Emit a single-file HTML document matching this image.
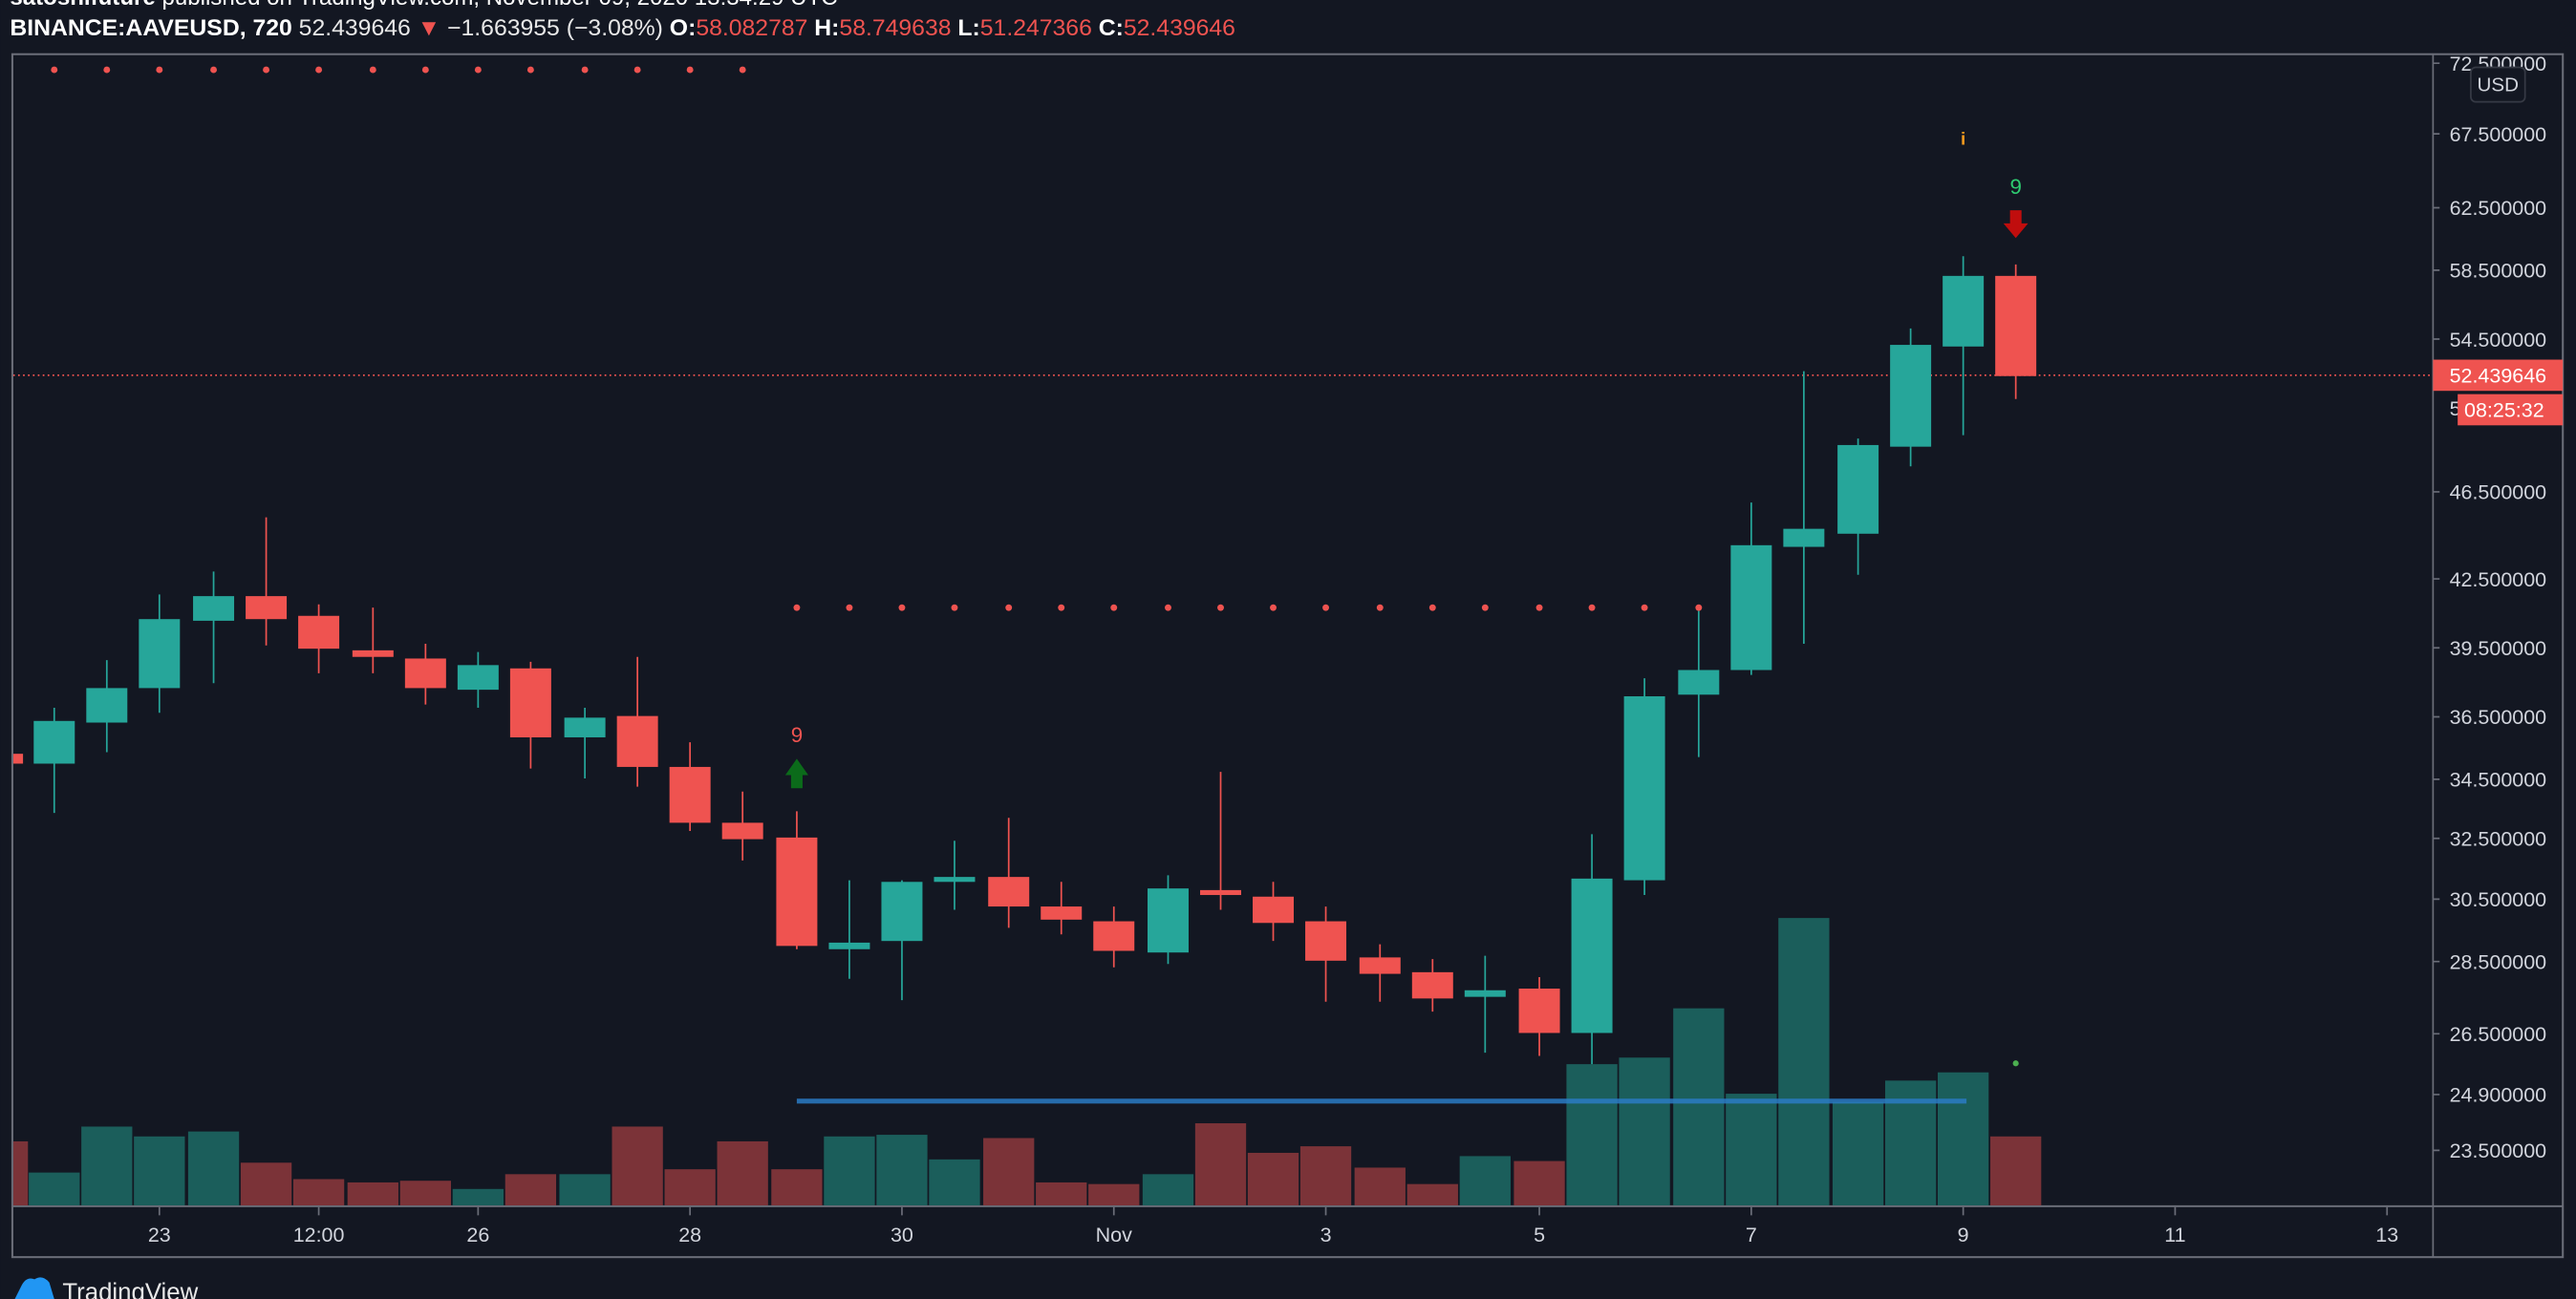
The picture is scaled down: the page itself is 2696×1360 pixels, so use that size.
<!DOCTYPE html>
<html><head><meta charset="utf-8"><style>
html,body{margin:0;padding:0;background:#131722;}
svg{display:block}
text{font-family:"Liberation Sans",sans-serif}
</style></head><body>
<svg width="2696" height="1360" viewBox="0 0 1568 791" xmlns="http://www.w3.org/2000/svg">
<rect width="1568" height="791" fill="#131722"/>
<defs><clipPath id="c"><rect x="8" y="33" width="1472" height="701"/></clipPath></defs>
<!-- header -->
<text x="6" y="3" font-size="14" fill="#fff"><tspan font-weight="bold">satoshifuture</tspan> published on TradingView.com, November 09, 2020 13:34:29 UTC</text>
<text x="6" y="21.5" font-size="14" fill="#e8e8e8" textLength="746" lengthAdjust="spacingAndGlyphs"><tspan font-weight="bold" fill="#fff">BINANCE:AAVEUSD, 720</tspan> 52.439646 <tspan fill="#ef5350">▼</tspan> −1.663955 (−3.08%) <tspan font-weight="bold" fill="#fff">O:</tspan><tspan fill="#ef5350">58.082787</tspan> <tspan font-weight="bold" fill="#fff">H:</tspan><tspan fill="#ef5350">58.749638</tspan> <tspan font-weight="bold" fill="#fff">L:</tspan><tspan fill="#ef5350">51.247366</tspan> <tspan font-weight="bold" fill="#fff">C:</tspan><tspan fill="#ef5350">52.439646</tspan></text>
<!-- frame -->
<rect x="7.5" y="33" width="1552.5" height="732.5" fill="none" stroke="#6a6d78" stroke-width="1.2"/>
<line x1="1481" y1="33" x2="1481" y2="765.5" stroke="#6a6d78" stroke-width="1"/>
<line x1="7.5" y1="734.5" x2="1560" y2="734.5" stroke="#6a6d78" stroke-width="1.2"/>
<g clip-path="url(#c)">
<!-- volume -->
<g fill="#1b5e5b">
<rect x="17.5" y="714" width="31" height="20"/><rect x="49.5" y="686" width="31" height="48"/><rect x="81.5" y="692" width="31" height="42"/><rect x="114.5" y="689" width="31" height="45"/><rect x="275.5" y="724" width="31" height="10"/><rect x="340.5" y="715" width="31" height="19"/><rect x="501.5" y="692" width="31" height="42"/><rect x="533.5" y="691" width="31" height="43"/><rect x="565.5" y="706" width="31" height="28"/><rect x="695.5" y="715" width="31" height="19"/><rect x="888.5" y="704" width="31" height="30"/><rect x="953.5" y="648" width="31" height="86"/><rect x="985.5" y="644" width="31" height="90"/><rect x="1018.5" y="614" width="31" height="120"/><rect x="1050.5" y="666" width="31" height="68"/><rect x="1082.5" y="559" width="31" height="175"/><rect x="1115.5" y="671" width="31" height="63"/><rect x="1147.5" y="658" width="31" height="76"/><rect x="1179.5" y="653" width="31" height="81"/>
</g>
<g fill="#7b3338">
<rect x="8" y="695" width="9" height="39"/><rect x="146.5" y="708" width="31" height="26"/><rect x="178.5" y="718" width="31" height="16"/><rect x="211.5" y="720" width="31" height="14"/><rect x="243.5" y="719" width="31" height="15"/><rect x="307.5" y="715" width="31" height="19"/><rect x="372.5" y="686" width="31" height="48"/><rect x="404.5" y="712" width="31" height="22"/><rect x="436.5" y="695" width="31" height="39"/><rect x="469.5" y="712" width="31" height="22"/><rect x="598.5" y="693" width="31" height="41"/><rect x="630.5" y="720" width="31" height="14"/><rect x="662.5" y="721" width="31" height="13"/><rect x="727.5" y="684" width="31" height="50"/><rect x="759.5" y="702" width="31" height="32"/><rect x="791.5" y="698" width="31" height="36"/><rect x="824.5" y="711" width="31" height="23"/><rect x="856.5" y="721" width="31" height="13"/><rect x="921.5" y="707" width="31" height="27"/><rect x="1211.5" y="692" width="31" height="42"/>
</g>
<!-- blue line -->
<line x1="485" y1="670.5" x2="1197" y2="670.5" stroke="#2a7bc4" stroke-opacity="0.85" stroke-width="3"/>
<!-- price line -->
<line x1="8" y1="228.5" x2="1481" y2="228.5" stroke="#ef5350" stroke-width="1" stroke-dasharray="1 2"/>
<!-- dots -->
<g fill="#ef5350">
<circle cx="33" cy="42.5" r="2"/><circle cx="65" cy="42.5" r="2"/><circle cx="97" cy="42.5" r="2"/><circle cx="130" cy="42.5" r="2"/><circle cx="162" cy="42.5" r="2"/><circle cx="194" cy="42.5" r="2"/><circle cx="227" cy="42.5" r="2"/><circle cx="259" cy="42.5" r="2"/><circle cx="291" cy="42.5" r="2"/><circle cx="323" cy="42.5" r="2"/><circle cx="356" cy="42.5" r="2"/><circle cx="388" cy="42.5" r="2"/><circle cx="420" cy="42.5" r="2"/><circle cx="452" cy="42.5" r="2"/>
<circle cx="485" cy="370" r="2"/><circle cx="517" cy="370" r="2"/><circle cx="549" cy="370" r="2"/><circle cx="581" cy="370" r="2"/><circle cx="614" cy="370" r="2"/><circle cx="646" cy="370" r="2"/><circle cx="678" cy="370" r="2"/><circle cx="711" cy="370" r="2"/><circle cx="743" cy="370" r="2"/><circle cx="775" cy="370" r="2"/><circle cx="807" cy="370" r="2"/><circle cx="840" cy="370" r="2"/><circle cx="872" cy="370" r="2"/><circle cx="904" cy="370" r="2"/><circle cx="937" cy="370" r="2"/><circle cx="969" cy="370" r="2"/><circle cx="1001" cy="370" r="2"/><circle cx="1034" cy="370" r="2"/>
</g>
<!-- green candles -->
<g stroke="#26a69a" stroke-width="1">
<path d="M33 431V495M65 402V458M97 362V434M130 348V416M291 397V431M356 431V474M517 536V596M549 536V609M581 512V554M711 533V587M904 582V641M969 508V648M1001 413V545M1034 372V461M1066 306V411M1098 226V392M1131 267V350M1163 200V284M1195 156V265"/>
</g>
<g fill="#26a69a">
<rect x="20.5" y="439" width="25" height="26"/><rect x="52.5" y="419" width="25" height="21"/><rect x="84.5" y="377" width="25" height="42"/><rect x="117.5" y="363" width="25" height="15"/><rect x="278.5" y="405" width="25" height="15"/><rect x="343.5" y="437" width="25" height="12"/><rect x="504.5" y="574" width="25" height="4"/><rect x="536.5" y="537" width="25" height="36"/><rect x="568.5" y="534" width="25" height="3"/><rect x="698.5" y="541" width="25" height="39"/><rect x="891.5" y="603" width="25" height="4"/><rect x="956.5" y="535" width="25" height="94"/><rect x="988.5" y="424" width="25" height="112"/><rect x="1021.5" y="408" width="25" height="15"/><rect x="1053.5" y="332" width="25" height="76"/><rect x="1085.5" y="322" width="25" height="11"/><rect x="1118.5" y="271" width="25" height="54"/><rect x="1150.5" y="210" width="25" height="62"/><rect x="1182.5" y="168" width="25" height="43"/>
</g>
<!-- red candles -->
<g stroke="#ef5350" stroke-width="1">
<path d="M162 315V393M194 368V410M227 370V410M259 392V429M323 403V468M388 400V479M420 452V506M452 482V524M485 494V578M614 498V565M646 537V569M678 552V589M743 470V554M775 537V573M807 552V610M840 575V610M872 584V616M937 595V643M1227 161V243"/>
</g>
<g fill="#ef5350">
<rect x="8" y="459" width="6" height="6"/><rect x="149.5" y="363" width="25" height="14"/><rect x="181.5" y="375" width="25" height="20"/><rect x="214.5" y="396" width="25" height="4"/><rect x="246.5" y="401" width="25" height="18"/><rect x="310.5" y="407" width="25" height="42"/><rect x="375.5" y="436" width="25" height="31"/><rect x="407.5" y="467" width="25" height="34"/><rect x="439.5" y="501" width="25" height="10"/><rect x="472.5" y="510" width="25" height="66"/><rect x="601.5" y="534" width="25" height="18"/><rect x="633.5" y="552" width="25" height="8"/><rect x="665.5" y="561" width="25" height="18"/><rect x="730.5" y="542" width="25" height="3"/><rect x="762.5" y="546" width="25" height="16"/><rect x="794.5" y="561" width="25" height="24"/><rect x="827.5" y="583" width="25" height="10"/><rect x="859.5" y="592" width="25" height="16"/><rect x="924.5" y="602" width="25" height="27"/><rect x="1214.5" y="168" width="25" height="61"/>
</g>
<!-- markers -->
<text x="485" y="452" font-size="13" fill="#ef5350" text-anchor="middle">9</text>
<path d="M485 462L492 472H488.5V480H481.5V472H478Z" fill="#0b6b1a"/>
<text x="1195" y="88" font-size="11" font-weight="bold" fill="#f59a1e" text-anchor="middle">i</text>
<text x="1227" y="118" font-size="13" fill="#2ecc71" text-anchor="middle">9</text>
<path d="M1223.5 128H1230.5V136H1234.5L1227 145L1219.5 136H1223.5Z" fill="#c00d0d"/>
<circle cx="1227" cy="647.5" r="1.8" fill="#4caf50"/>
</g>
<!-- price axis -->
<g font-size="12.5" fill="#d1d4dc">
<text x="1491" y="43">72.500000</text><text x="1491" y="86">67.500000</text><text x="1491" y="131">62.500000</text><text x="1491" y="169">58.500000</text><text x="1491" y="211">54.500000</text><text x="1491" y="304">46.500000</text><text x="1491" y="357">42.500000</text><text x="1491" y="399">39.500000</text><text x="1491" y="441">36.500000</text><text x="1491" y="479">34.500000</text><text x="1491" y="515">32.500000</text><text x="1491" y="552">30.500000</text><text x="1491" y="590">28.500000</text><text x="1491" y="634">26.500000</text><text x="1491" y="671">24.900000</text><text x="1491" y="705">23.500000</text><text x="1491" y="253">5</text>
</g>
<g stroke="#6a6d78"><path d="M1481 38.5h4M1481 81.5h4M1481 126.5h4M1481 164.5h4M1481 206.5h4M1481 299.5h4M1481 352.5h4M1481 394.5h4M1481 436.5h4M1481 474.5h4M1481 510.5h4M1481 547.5h4M1481 585.5h4M1481 629.5h4M1481 666.5h4M1481 700.5h4"/></g>
<rect x="1504" y="41" width="33" height="21" rx="3" fill="#131722" stroke="#363a45"/>
<text x="1520.5" y="55.5" font-size="12" fill="#d1d4dc" text-anchor="middle">USD</text>
<rect x="1481" y="219" width="79" height="19" fill="#ef5350"/>
<text x="1491" y="233" font-size="12.5" fill="#fff">52.439646</text>
<rect x="1496" y="240" width="64" height="19" fill="#ef5350"/>
<text x="1500" y="254" font-size="12.5" fill="#fff">08:25:32</text>
<!-- time axis -->
<g stroke="#6a6d78"><path d="M97 735v5M194 735v5M291 735v5M420 735v5M549 735v5M678 735v5M807 735v5M937 735v5M1066 735v5M1195 735v5M1324 735v5M1453 735v5"/></g>
<g font-size="12.5" fill="#d1d4dc" text-anchor="middle">
<text x="97" y="756">23</text><text x="194" y="756">12:00</text><text x="291" y="756">26</text><text x="420" y="756">28</text><text x="549" y="756">30</text><text x="678" y="756">Nov</text><text x="807" y="756">3</text><text x="937" y="756">5</text><text x="1066" y="756">7</text><text x="1195" y="756">9</text><text x="1324" y="756">11</text><text x="1453" y="756">13</text>
</g>
<!-- logo -->
<path d="M9 791 L13 783 Q16 777 21 779 Q26 776 30 781 L33 791Z" fill="#2196f3"/>
<text x="38" y="792" font-size="15" fill="#e8e8e8">TradingView</text>
</svg>
</body></html>
